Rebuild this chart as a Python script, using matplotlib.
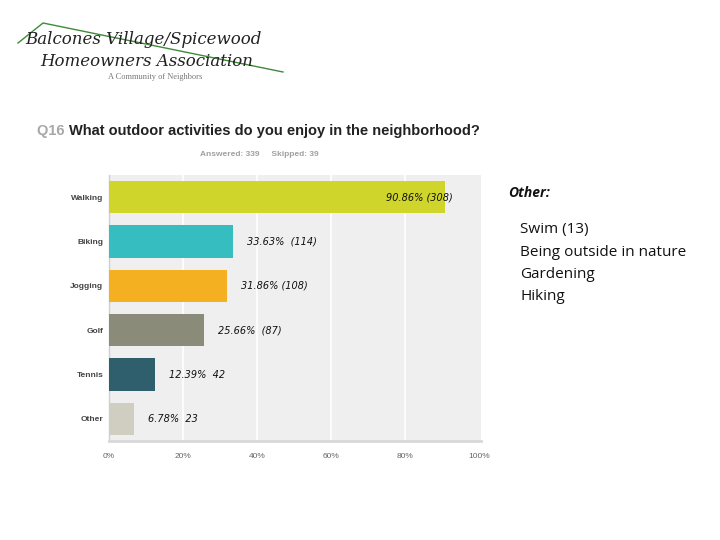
import matplotlib.pyplot as plt
from matplotlib.lines import Line2D

# Survey data
activities = ["Walking", "Biking", "Jogging", "Golf", "Tennis", "Other"]
percents = [90.86, 33.63, 31.86, 25.66, 12.39, 6.78]
counts = [308, 114, 108, 87, 42, 23]
bar_labels = ["90.86% (308)", "33.63%  (114)", "31.86% (108)",
              "25.66%  (87)", "12.39%  42", "6.78%  23"]
colors = ["#cfd52b", "#36bdbf", "#f5b021", "#8b8b79", "#2f5f6c", "#d0cec1"]
xticks = [0, 20, 40, 60, 80, 100]
xtick_labels = ["0%", "20%", "40%", "60%", "80%", "100%"]
other_items = ["Swim (13)", "Being outside in nature", "Gardening", "Hiking"]

fig = plt.figure(figsize=(7.2, 5.4), dpi=100)
W, H = 720, 540

def fx(px):
    return px / W

def fy(py):
    return 1 - py / H

# Logo area
fig.add_artist(Line2D([fx(18), fx(43), fx(283)], [fy(43), fy(23), fy(72)],
                      color="#3f8a3a", lw=1.0))
fig.text(fx(25), fy(40), "Balcones Village/Spicewood", family="DejaVu Serif",
         style="italic", fontsize=12, color="#222222", va="center", ha="left")
fig.text(fx(40), fy(62), "Homeowners Association", family="DejaVu Serif",
         style="italic", fontsize=12, color="#222222", va="center", ha="left")
fig.text(fx(155), fy(77), "A Community of Neighbors", family="Liberation Serif",
         fontsize=6, color="#777777", va="center", ha="center")

# Title
t1 = fig.text(fx(37), fy(131), "Q16 ", family="Liberation Sans", weight="bold",
              fontsize=10.5, color="#a8a8a8", va="center", ha="left")
fig.canvas.draw()
bb = t1.get_window_extent()
fig.text(bb.x1 / W, fy(131), "What outdoor activities do you enjoy in the neighborhood?",
         family="Liberation Sans", weight="bold", fontsize=10.5, color="#222222",
         va="center", ha="left")
fig.text(fx(259), fy(155), "Answered: 339     Skipped: 39", family="Liberation Sans",
         weight="bold", fontsize=6, color="#a0a0a0", va="center", ha="center")

# Bar chart
ax = fig.add_axes([fx(109), fy(441), fx(481) - fx(109), fy(175) - fy(441)])
ax.set_facecolor("#efefef")
y = range(len(activities))
ax.barh(y, percents, height=0.73, color=colors, zorder=3)
ax.set_ylim(len(activities) - 0.5, -0.5)
ax.set_xlim(0, 100.5)
for xv in xticks[1:-1]:
    ax.axvline(xv, color="white", lw=1.2, zorder=1)

for i, (p, lab) in enumerate(zip(percents, bar_labels)):
    if p > 80:
        ax.annotate(lab, (p, i), xytext=(5, 0), textcoords="offset points",
                    ha="right", va="center", style="italic", fontsize=7,
                    family="DejaVu Sans", color="#111111", zorder=4)
    else:
        ax.annotate(lab, (p, i), xytext=(10, 0), textcoords="offset points",
                    ha="left", va="center", style="italic", fontsize=7,
                    family="DejaVu Sans", color="#111111", zorder=4)

ax.set_yticks(list(y))
ax.set_yticklabels(activities, family="Liberation Sans", weight="bold",
                   fontsize=6, color="#444444")
ax.set_xticks(xticks)
ax.set_xticklabels(xtick_labels, family="Liberation Sans", fontsize=6,
                   color="#666666")
ax.tick_params(axis="both", length=0)
ax.tick_params(axis="y", pad=4)
ax.tick_params(axis="x", pad=9)
for s in ["top", "right"]:
    ax.spines[s].set_visible(False)
ax.spines["left"].set_color("#cfcfcf")
ax.spines["left"].set_linewidth(1.0)
ax.spines["bottom"].set_color("#d8d8d8")
ax.spines["bottom"].set_linewidth(2.0)

# "Other" side note
fig.text(fx(508), fy(193), "Other:", family="Open Sans", style="italic",
         weight="bold", fontsize=10, color="#111111", va="center", ha="left")
for k, item in enumerate(other_items):
    fig.text(fx(520), fy(230 + 22 * k), item, family="Open Sans", fontsize=11,
             color="#111111", va="center", ha="left")

fig.savefig("out.png", dpi=100)
